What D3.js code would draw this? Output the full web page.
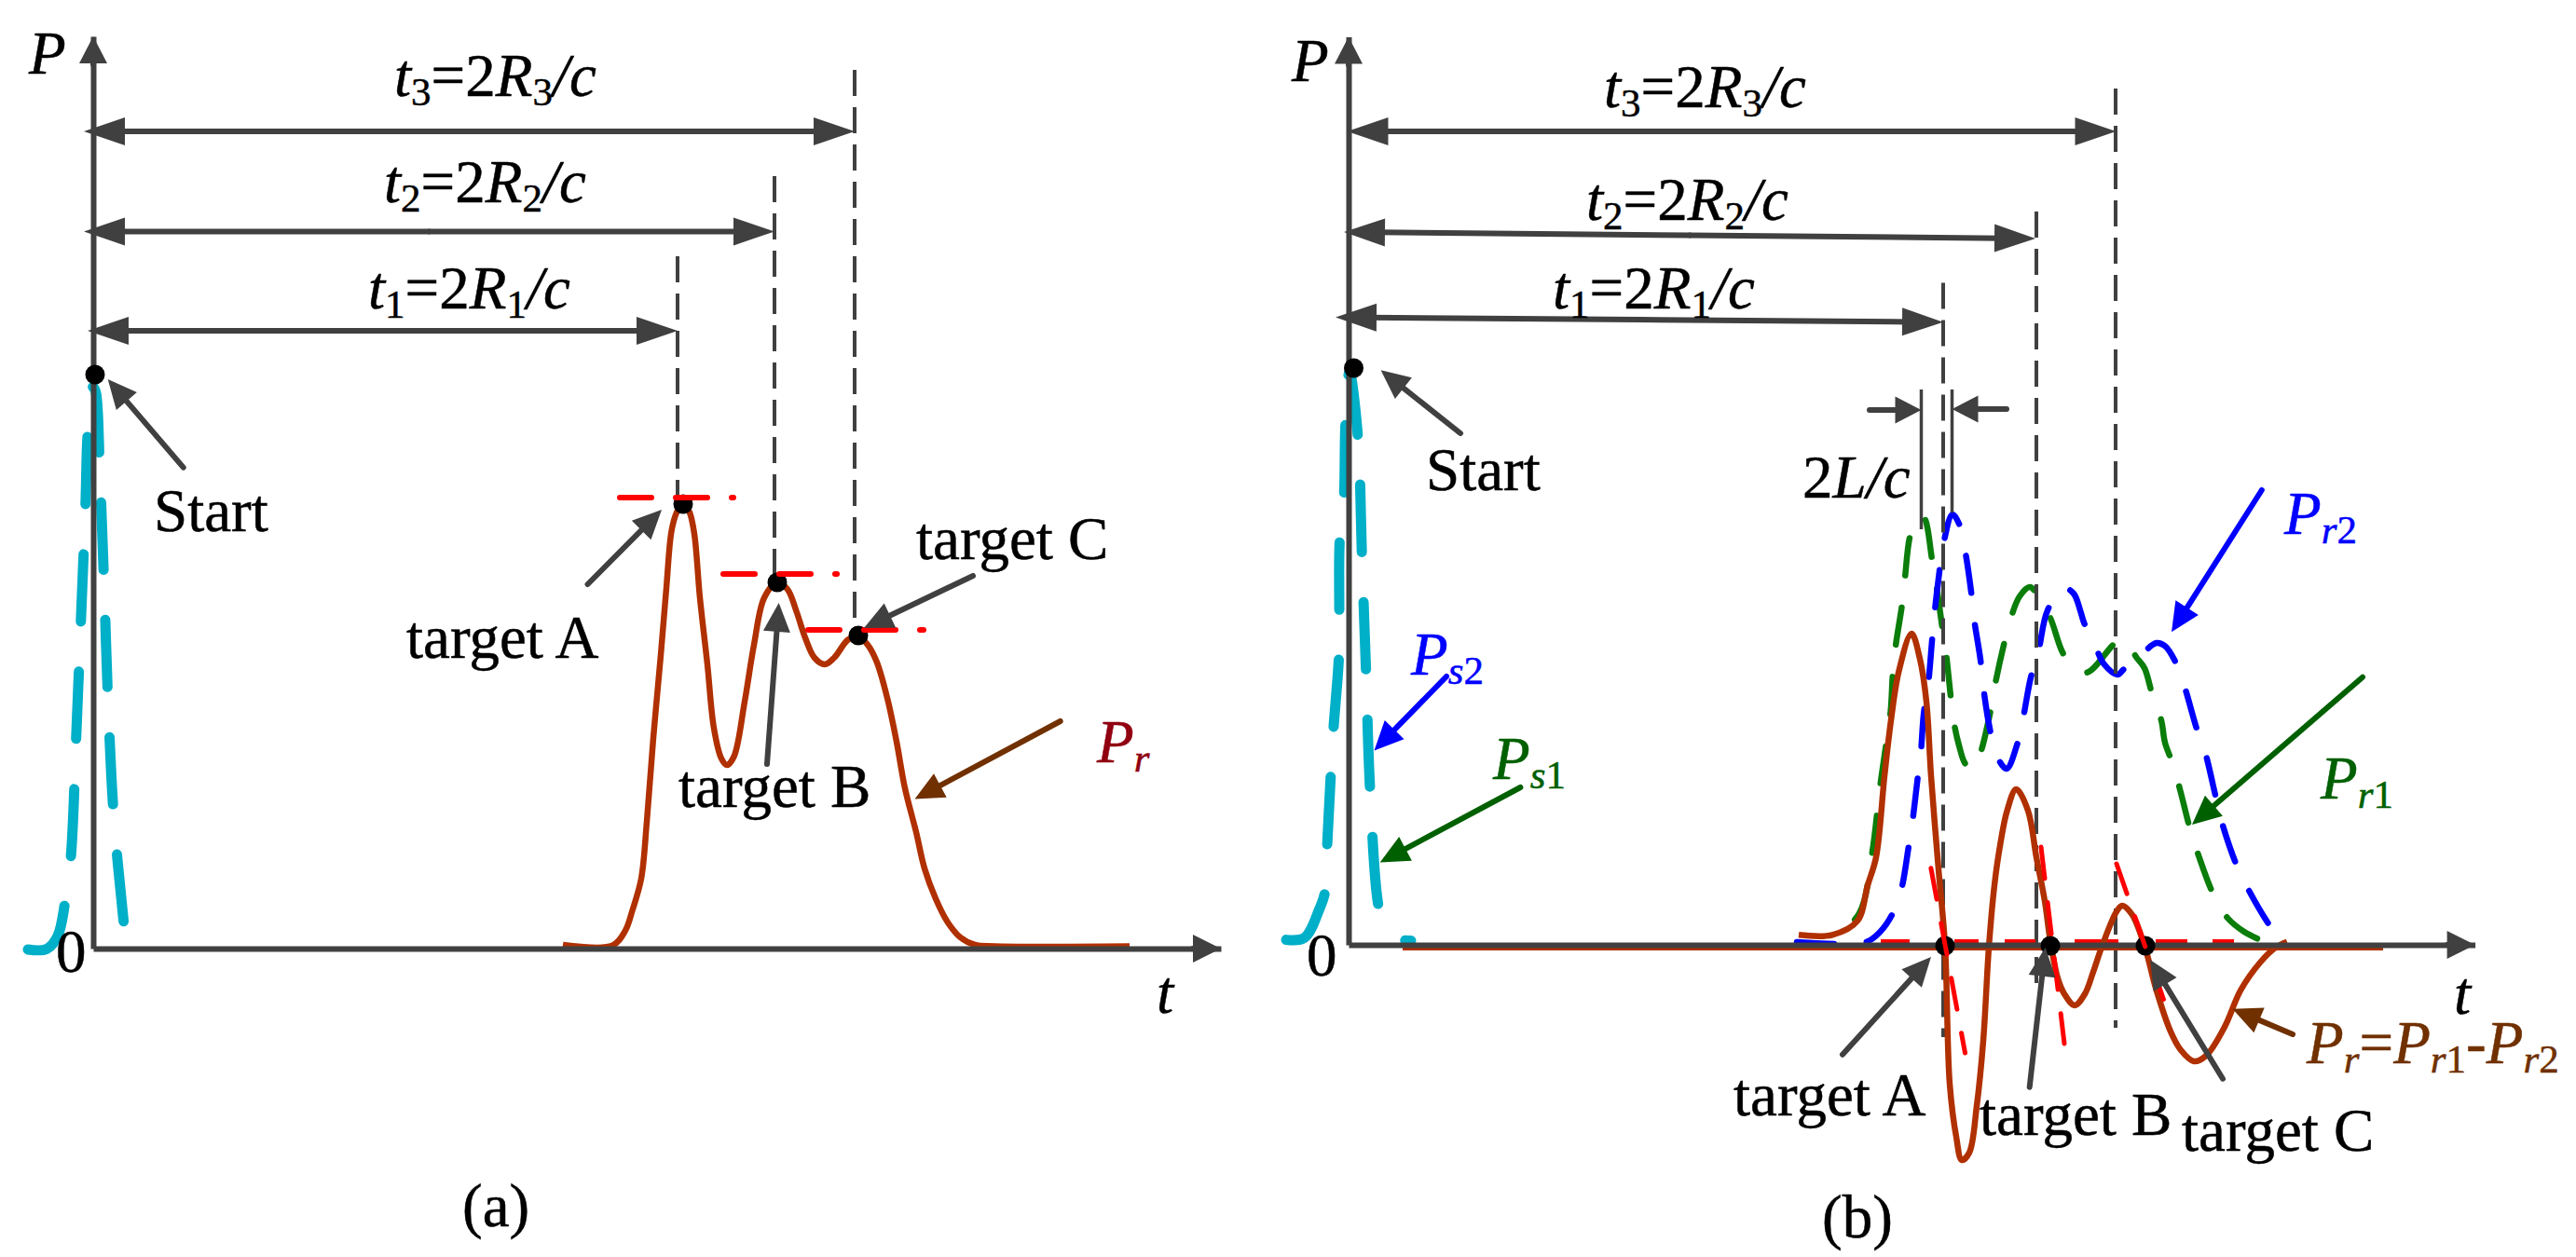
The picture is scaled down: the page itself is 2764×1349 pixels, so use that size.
<!DOCTYPE html>
<html>
<head>
<meta charset="utf-8">
<script src="https://cdn.jsdelivr.net/npm/d3@7"></script>
<style>
  html, body { margin: 0; background: #fff; }
  text { font-family: "Liberation Serif", serif; font-size: 65px; fill: #000; }
</style>
</head>
<body>
<div id="chart"></div>
<script>
// all curves are [t, P] (arbitrary units, same scale in both panels)

// (a) transmitted pulse and received signal
const pulseA = [[-7,-0.1],[-5,-0.05],[-3.83,1.3],[-3,5.1],[-2.4,9.8],[-1.83,22.6],[-1.33,34.95],[-0.83,47.5],[-0.57,55.6],[0,60.3],[0.3,59.6],[0.7,51.55],[1.17,39],[1.6,26.4],[2.23,13.9],[3.43,1.3]];
const receivedA = [[50.4,0.4],[55.7,0.32],[57.1,1.94],[57.85,4.09],[58.8,7.5],[59.4,13.6],[60.1,22.6],[60.9,31.5],[61.5,38.7],[62.05,44.8],[62.6,46.8],[63.3,47.9],[64,46.8],[64.5,44.5],[65.1,37.65],[65.9,30.5],[66.6,23.65],[67.4,20.4],[68,19.7],[68.75,20.6],[69.9,26.5],[70.9,32.6],[72,37.65],[73.4,39.3],[74.5,38.55],[75.45,36.2],[76.4,33.35],[77.4,31.2],[78.5,30.5],[79.5,31.2],[81,33.15],[82.1,33.5],[83.1,32.6],[84.06,30.8],[85.2,26.9],[86.2,22.2],[87.1,17.2],[88.3,12.5],[89.2,8.6],[90.4,5.35],[91.7,2.8],[93.05,1.2],[94.6,0.4],[96.7,0.25],[111.2,0.25]];
const peakLevelsA = [[56.2,69,48.4],[67.3,80.1,40.2],[76.4,89.4,34.2]];
const guidesA = [[62.7,74.3,48.6],[73.1,82.9,40.2],[81.7,94.3,35.1]];
const spansA = [[-1,87.7,81.7,87.7],[-1,76.96,73.1,76.96],[-0.6,66.3,62.7,66.3]];
const dotsA = [[0.2,61.6],[63.3,47.7],[73.4,39.3],[82.1,33.6]];

// (b) two channels and their difference
const pulseB = [[-6.7,0.54],[-4.74,0.75],[-3.15,3.8],[-2.53,5.7],[-2.3,10.65],[-1.65,22.7],[-1.04,30.9],[-1,35.5],[-0.95,43.5],[-0.5,48],[-0.33,56],[0.1,61.5],[1,54.5],[1.43,41.8],[1.87,29.4],[2.3,16.8],[3.2,4.2],[3.9,1.8],[5,0.7],[6.7,0.45]];
const channel1 = [[51.7,0.4],[54.8,3.4],[56.15,9.7],[57.04,17.07],[57.7,21.7],[58.16,25.07],[58.4,29.2],[58.7,32.07],[59.4,36.6],[59.7,39.4],[60.25,43.9],[61.06,45.9],[61.7,45.9],[62.6,41.4],[63.2,37.7],[63.7,34.07],[64.1,31.4],[64.6,26.7],[64.95,23.9],[65.5,21.4],[66.2,19.4],[67.1,18.9],[67.84,20.7],[68.9,25.2],[69.4,28.07],[70.4,32.6],[71.1,35.2],[72,37.4],[73.1,38.4],[74,37.4],[75.3,35.07],[76.9,30.9],[79.1,29.2],[82.3,32.4],[83.4,32.7],[84.5,30.9],[85.4,29.7],[86.3,26.6],[87.2,24.1],[87.6,21.7],[88.4,19.5],[89.2,16.7],[90.3,12.4],[91.2,9.6],[92.8,5.4],[94.3,2.9],[96.1,1.4],[98.1,0.4]];
const channel2 = [[48.1,0.3],[55.5,0.3],[57.04,1.4],[58.4,3.4],[59.3,5.9],[60.1,10.6],[60.5,13.2],[61.06,17.9],[61.4,20.6],[61.7,24.7],[62.2,28.07],[62.6,32.6],[62.85,35.4],[63.4,40.1],[63.8,42.9],[64.8,46.2],[65.5,45.2],[66.1,42.6],[66.8,37.9],[67.1,35.07],[67.8,30.6],[68.1,27.7],[68.8,23.2],[69.5,20.4],[70.6,18.9],[71.7,21.4],[72.35,24.2],[73.2,28.7],[74,31.4],[75,35.9],[76.7,38.3],[77.8,37.7],[78.5,35.9],[78.9,34.6],[80.1,32.07],[81.1,30.07],[82.5,29],[83.2,29.6],[85.3,31.4],[86.7,32.4],[87.6,32.07],[88.7,30.4],[89.7,27.7],[91,23.2],[91.9,20.7],[93,16.07],[93.6,13.5],[95.1,9],[96.2,6.6],[98.55,2.5],[100.1,0.4]];
const difference = [[48.3,1.07],[51.9,1.07],[54.6,2.57],[55.7,6.4],[56.6,9.4],[57.5,18.1],[58.2,24.1],[59.05,29.4],[60.4,33.4],[61.3,30.7],[62,26.1],[62.5,18.1],[63.3,8.1],[64,-0.1],[64.5,-14.9],[65.2,-20.6],[65.8,-23.1],[66.6,-22.3],[67.4,-17.3],[68.1,-10.3],[68.7,-0.27],[69.3,6.4],[69.86,10.4],[70.66,14.4],[71.64,16.7],[72.9,14.4],[73.8,9.4],[74.7,4.7],[75.3,0.4],[76.1,-3.6],[76.8,-5.27],[77.9,-6.5],[79,-5.27],[79.9,-2.9],[80.8,-0.27],[82.4,3.57],[83,4.2],[84.1,3.2],[85.5,-0.43],[86.6,-4.6],[88.2,-9.3],[89.3,-11.3],[90.7,-12.5],[92,-11.9],[94,-8.8],[95.7,-4.9],[97.8,-1.9],[99.5,-0.27],[100.7,0.33]];
const differenceTail = [[5.8,-0.4],[111,-0.4]];
const slopesB = [[62.49,8.23,66.15,-11.6],[74.3,10.5,76.8,-10.6],[82.4,8.7,87.6,-6.3]];
const zeroDashes = [[57.1,60.2],[65,67.6],[70.4,73.7],[77.9,82.6],[86.6,90],[92.7,95]];
const guidesB = [[63.8,71.05,-9.9],[73.8,78.7,-4.3],[82.3,91.9,-8.9]];
const spansB = [[-0.15,87.3,82.35,87.3],[-0.5,76.5,73.7,75.8],[-1.4,67.35,63.8,66.83]];
const delayLines = [[61.45,59.6,44.6],[64.75,59.6,46.4]];
const dotsB = [[0.55,61.9],[64,-0.1],[75.3,-0.1],[85.5,-0.1]];

const width = 2764, height = 1349;
const grey = "#404040", cyan = "#00afc8", rust = "#b03000", brown = "#703000", deep = "#006000";

const svg = d3.select("#chart").append("svg")
  .attr("width", width).attr("height", height)
  .style("display", "block");

const makeLine = (x, y) => d3.line().x(d => x(d[0])).y(d => y(d[1])).curve(d3.curveCatmullRom.alpha(0.5));

// arrow from a to b in data units, one solid head at b
function arrow(g, x, y, a, b, color, headLen = 31, headW = 29) {
  const x0 = x(a[0]), y0 = y(a[1]), x1 = x(b[0]), y1 = y(b[1]);
  const len = Math.hypot(x1 - x0, y1 - y0), ux = (x1 - x0) / len, uy = (y1 - y0) / len;
  g.append("line").attr("x1", x0).attr("y1", y0)
    .attr("x2", x1 - ux * headLen * 0.8).attr("y2", y1 - uy * headLen * 0.8)
    .attr("stroke", color).attr("stroke-width", 6).attr("stroke-linecap", "round");
  const bx = x1 - ux * headLen, by = y1 - uy * headLen;
  g.append("polygon").attr("fill", color)
    .attr("points", [[x1, y1], [bx - uy * headW / 2, by + ux * headW / 2], [bx + uy * headW / 2, by - ux * headW / 2]].join(" "));
}

function axes(g, x, y, xEnd, yTop) {
  g.append("g").attr("transform", `translate(0,${y(0)})`)
    .call(d3.axisBottom(x).tickValues([]).tickSize(0))
    .select(".domain").attr("stroke", grey).attr("stroke-width", 6);
  g.append("g").attr("transform", `translate(${x(0)},0)`)
    .call(d3.axisLeft(y).tickValues([]).tickSize(0))
    .select(".domain").attr("stroke", grey).attr("stroke-width", 6);
  arrow(g, x, y, [xEnd - 3, 0], [xEnd, 0], grey, 30, 30);
  arrow(g, x, y, [0, yTop - 3], [0, yTop], grey, 29, 30);
}

// label made of [string, italic?, subscript?] runs
function label(px, py, runs, color = "#000") {
  const t = svg.append("text").attr("x", px).attr("y", py)
    .style("fill", color).style("stroke", color).style("stroke-width", 0.5);
  let down = false;
  runs.forEach(r => {
    const s = t.append("tspan").text(r[0])
      .style("font-style", r[1] ? "italic" : "normal")
      .style("font-size", r[2] ? "43px" : "65px");
    if (r[2] && !down) { s.attr("dy", 10); down = true; }
    else if (!r[2] && down) { s.attr("dy", -10); down = false; }
  });
}
const delay = n => [["t", true], [n, false, true], ["=2", false], ["R", true], [n, false, true], ["/c", true]];
const sub = (a, b, c) => c ? [[a, true], [b, true, true], [c, false, true]] : [[a, true], [b, true, true]];

function guideLines(g, x, y, rows) {
  g.selectAll(null).data(rows).enter().append("line")
    .attr("x1", d => x(d[0])).attr("x2", d => x(d[0]))
    .attr("y1", d => y(d[1])).attr("y2", d => y(d[2]))
    .attr("stroke", grey).attr("stroke-width", 4).attr("stroke-dasharray", "28 12");
}

function spans(g, x, y, rows) {
  rows.forEach(d => {
    arrow(g, x, y, [(d[0] + d[2]) / 2, (d[1] + d[3]) / 2], [d[0], d[1]], grey, 44, 30);
    arrow(g, x, y, [(d[0] + d[2]) / 2, (d[1] + d[3]) / 2], [d[2], d[3]], grey, 44, 30);
  });
}

function dots(g, x, y, rows) {
  g.selectAll(null).data(rows).enter().append("circle")
    .attr("cx", d => x(d[0])).attr("cy", d => y(d[1])).attr("r", 10.5).attr("fill", "#000");
}

// PANEL A
function panelA() {
  const g = svg.append("g");
  const x = d3.scaleLinear().domain([0, 121]).range([100, 1310]);
  const y = d3.scaleLinear().domain([0, 97.9]).range([1018, 39]);
  const line = makeLine(x, y);

  g.append("path").attr("d", line(pulseA)).attr("fill", "none")
    .attr("stroke", cyan).attr("stroke-width", 11).attr("stroke-linecap", "round").attr("stroke-dasharray", "72 54");
  guideLines(g, x, y, guidesA);
  g.append("path").attr("d", line(receivedA)).attr("fill", "none").attr("stroke", rust).attr("stroke-width", 6.5);
  axes(g, x, y, 121, 97.9);
  dots(g, x, y, dotsA);
  g.selectAll(null).data(peakLevelsA).enter().append("line")
    .attr("x1", d => x(d[0]) + 3).attr("x2", d => x(d[1]) - 3)
    .attr("y1", d => y(d[2])).attr("y2", d => y(d[2]))
    .attr("stroke", "#f00").attr("stroke-width", 6).attr("stroke-linecap", "round")
    .attr("stroke-dasharray", "34 26 34 26 4 200");
  spans(g, x, y, spansA);

  arrow(g, x, y, [9.67,51.64], [1.57,61.1], grey);
  arrow(g, x, y, [53.06,39.1], [61,47.1], grey);
  arrow(g, x, y, [72.3,19.8], [73.57,37.1], grey);
  arrow(g, x, y, [94.4,40], [82.7,34.4], grey);
  arrow(g, x, y, [103.77,24.4], [88.15,16.04], brown);

  label(31, 79, [["P", true]]);
  label(423, 103, delay("3"));
  label(412, 217, delay("2"));
  label(395, 331, delay("1"));
  label(165, 570, [["Start"]]);
  label(436, 706, [["target A"]]);
  label(728, 866, [["target B"]]);
  label(983, 600, [["target C"]]);
  label(1177, 818, sub("P", "r"), "#900010");
  label(1241, 1087, [["t", true]]);
  label(60, 1043, [["0"]]);
  label(496, 1316, [["(a)"]]);
}

// PANEL B
function panelB() {
  const g = svg.append("g");
  const x = d3.scaleLinear().domain([0, 120.86]).range([1447, 2655.6]);
  const y = d3.scaleLinear().domain([0, 97.44]).range([1014, 39.6]);
  const line = makeLine(x, y);
  const dash = (data, color, offset) => g.append("path").attr("d", line(data)).attr("fill", "none")
    .attr("stroke", color).attr("stroke-width", 6.5).attr("stroke-linecap", "round")
    .attr("stroke-dasharray", "40 35").attr("stroke-dashoffset", offset);

  g.append("path").attr("d", line(pulseB)).attr("fill", "none")
    .attr("stroke", cyan).attr("stroke-width", 11).attr("stroke-linecap", "round").attr("stroke-dasharray", "72 54");
  dash(channel1, "#0a7d0a", 40);
  dash(channel2, "#0000ff", 0);
  guideLines(g, x, y, guidesB);
  g.selectAll(null).data(delayLines).enter().append("line")
    .attr("x1", d => x(d[0])).attr("x2", d => x(d[0]))
    .attr("y1", d => y(d[1])).attr("y2", d => y(d[2]))
    .attr("stroke", grey).attr("stroke-width", 3.5);
  g.selectAll(null).data(zeroDashes).enter().append("line")
    .attr("x1", d => x(d[0])).attr("x2", d => x(d[1]))
    .attr("y1", y(0.4)).attr("y2", y(0.4))
    .attr("stroke", "#f00").attr("stroke-width", 4);
  g.append("path").attr("d", line(differenceTail)).attr("fill", "none").attr("stroke", rust).attr("stroke-width", 4);
  g.append("path").attr("d", line(difference)).attr("fill", "none").attr("stroke", rust).attr("stroke-width", 6.5);
  axes(g, x, y, 120.86, 97.44);
  dots(g, x, y, dotsB);
  g.selectAll(null).data(slopesB).enter().append("line")
    .attr("x1", d => x(d[0])).attr("y1", d => y(d[1])).attr("x2", d => x(d[2])).attr("y2", d => y(d[3]))
    .attr("stroke", "#f00").attr("stroke-width", 5).attr("stroke-linecap", "round").attr("stroke-dasharray", "34 26");
  spans(g, x, y, spansB);

  arrow(g, x, y, [55.9,57.4], [61.45,57.4], grey, 28, 29);
  arrow(g, x, y, [70.6,57.5], [64.75,57.5], grey, 28, 29);
  arrow(g, x, y, [12,54.9], [3.46,61.67], grey);
  arrow(g, x, y, [10.5,28.8], [2.75,20.86], "#0000ff");
  arrow(g, x, y, [18.44,16.9], [3.37,8.85], deep);
  arrow(g, x, y, [97.98,48.8], [88.3,33.57], "#0000ff");
  arrow(g, x, y, [108.8,28.73], [90.5,12.9], deep);
  arrow(g, x, y, [53,-11.77], [62.5,-1.3], grey);
  arrow(g, x, y, [73.07,-15.27], [74.76,-0.27], grey);
  arrow(g, x, y, [93.8,-14.37], [86,-1.6], grey);
  arrow(g, x, y, [101.3,-9.6], [94.85,-6.87], brown);

  label(1386, 87, [["P", true]]);
  label(1721, 115, delay("3"));
  label(1702, 236, delay("2"));
  label(1666, 331, delay("1"));
  label(1530, 526, [["Start"]]);
  label(1934, 534, [["2"], ["L/c", true]]);
  label(2451, 573, sub("P", "r", "2"), "#0000ff");
  label(1514, 724, sub("P", "s", "2"), "#0000ff");
  label(1602, 836, sub("P", "s", "1"), deep);
  label(2490, 857, sub("P", "r", "1"), deep);
  label(1402, 1047, [["0"]]);
  label(2633, 1088, [["t", true]]);
  label(2475, 1141, [["P", true], ["r", true, true], ["="], ["P", true], ["r", true, true], ["1", false, true], ["-"], ["P", true], ["r", true, true], ["2", false, true]], brown);
  label(1860, 1197, [["target A"]]);
  label(2124, 1218, [["target B"]]);
  label(2341, 1235, [["target C"]]);
  label(1955, 1328, [["(b)"]]);
}

panelA();
panelB();
</script>
</body>
</html>
